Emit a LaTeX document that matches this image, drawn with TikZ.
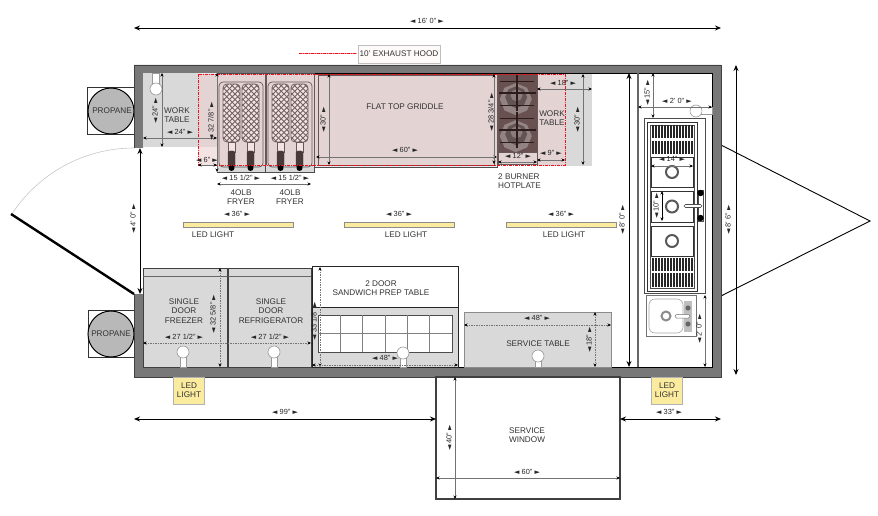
\documentclass[tikz,border=0pt]{standalone}
\usepackage{fontspec}
\setmainfont{Liberation Sans}
\newfontfamily\symfont{DejaVu Sans}
\usetikzlibrary{arrows.meta}
\definecolor{wallgray}{HTML}{787878}
\definecolor{tablegray}{HTML}{D9D9D9}
\definecolor{hoodgray}{HTML}{EBEBEB}
\definecolor{ledyellow}{HTML}{FBEB9F}
\definecolor{hoodpink}{HTML}{C98080}
\definecolor{hoodred}{HTML}{F01020}
\definecolor{grate}{HTML}{4E4345}
\newcommand{\dimtext}[1]{{\fontsize{7}{7}\symfont ◄}\hspace{2.2pt}#1\hspace{2.2pt}{\fontsize{7}{7}\symfont ►}}
\tikzset{
  txt/.style={font=\fontsize{8.2}{9.3}\selectfont,text=black!80,align=center,inner sep=0pt},
  dimtxt/.style={font=\fontsize{7.4}{8}\selectfont,text=black!85,inner sep=0pt},
  dimbig/.style={black,line width=.9pt,{Stealth[length=6pt,width=5pt]}-{Stealth[length=6pt,width=5pt]}},
  dimline/.style={black!55,line width=.6pt,{Stealth[length=3.5pt,width=3pt,black]}-{Stealth[length=3.5pt,width=3pt,black]}},
  dimdash/.style={dimline,dash pattern=on 1.5pt off 1pt},
  equip/.style={draw=black!70,line width=.7pt},
  hoodline/.style={hoodred,line width=.9pt,dash pattern=on 3pt off 1pt on 1pt off 1pt},
  ledbar/.style={draw=black!45,line width=.5pt,fill=ledyellow},
  ledbox/.style={draw=black!30,line width=.6pt,fill=ledyellow},
  ring/.style={draw=black!65,line width=2pt,fill=white},
  pipe/.style={draw=black!40,line width=.6pt,fill=white},
  tank/.style={draw=black,line width=1pt,fill=black!28}
}
\begin{document}
\begin{tikzpicture}[x=1pt,y=-1pt]
  \useasboundingbox (0,0) rectangle (878,516);
  % trailer hitch and door
  \draw[black,line width=.9pt] (721,145) -- (870,221) -- (721,296);
  \draw[black!22,line width=.6pt] (134,148) arc (270:213:146);
  \draw[black,line width=2.4pt] (134,294) -- (11,214);
  % propane
  \draw[black!80,line width=.9pt,fill=white] (87,87) rectangle (134,134);
  \draw[black!80,line width=.9pt,fill=white] (88,310) rectangle (134,357);
  \draw[tank] (111,111) circle (23);
  \draw[tank] (111,334) circle (23);
  \node[txt] (propaneA) at (112,111) {PROPANE};
  \node[txt] (propaneB) at (111,334) {PROPANE};
  % walls
  \fill[wallgray] (134,148) -- (134,65) -- (721,65) -- (721,377) -- (134,377) -- (134,294)
    -- (143,294) -- (143,367) -- (712,367) -- (712,73) -- (143,73) -- (143,148) -- cycle;
  \draw[black!75,line width=.9pt] (134,148) -- (134,65) -- (721,65) -- (721,377) -- (134,377) -- (134,294);
  \draw[black,line width=.8pt] (143,367) -- (712,367) -- (712,73) -- (143,73);
  \draw[black!60,line width=1.3pt] (638,73) -- (638,367);
  % work tables
  \fill[tablegray] (143,73) rectangle (198,147);
  \fill[hoodgray] (198,73) rectangle (217,147);
  \fill[hoodgray] (537,74) rectangle (565,165);
  \fill[tablegray] (565,74) rectangle (592,166);
  \fill[tablegray] (537,165) rectangle (565,166);
  % griddle
  \draw[equip,fill=hoodgray] (314,74) rectangle (497,167);
  \draw[equip,fill=hoodgray] (318,75) rectangle (494,165);
  % fryers
  \foreach \x in {217,266} {
    \draw[equip,fill=hoodgray] (\x,73) rectangle ++(48,99);
    \fill[tablegray] (\x+.4,165) rectangle (\x+47.6,171.6);
    \draw[equip,rounded corners=4pt] (\x+2,82) rectangle ++(44,85);
    \foreach \d in {6,25} {
      \begin{scope}
        \clip[rounded corners=4pt] (\x+\d,84) rectangle ++(17,58);
        \fill[white] (\x+\d,84) rectangle ++(17,58);
        \foreach \k in {0,5.5,...,82} {
          \draw[black!65,line width=1pt] (\x+\d,84+\k) -- ++(30,-30);
          \draw[black!65,line width=1pt] (\x+\d,84+\k-24) -- ++(30,30);
        }
      \end{scope}
      \draw[black!65,line width=.8pt,rounded corners=4pt] (\x+\d,84) rectangle ++(17,58);
      \draw[equip,fill=white,line width=.5pt] (\x+\d+5,142) rectangle ++(7,10);
      \draw[black!85,fill=black!85,rounded corners=2pt] (\x+\d+5,151) rectangle ++(7,16);
      \fill[black] (\x+\d+8.5,168) circle (3);
    }
  }
  % hotplate
  \draw[equip,fill=grate] (498,74) rectangle (537,152);
  \fill[hoodgray] (498,152) rectangle (537,164);
  \draw[equip] (498,152) rectangle (537,164);
  \foreach \y in {93,130} {
    \foreach \r/\c in {16/black!48,11/black!72,6/black!52} {
      \fill[\c] (517,\y) ++(22.5:\r) -- ++(112.5:.765*\r) -- ++(157.5:.765*\r) -- ++(202.5:.765*\r)
        -- ++(247.5:.765*\r) -- ++(292.5:.765*\r) -- ++(337.5:.765*\r) -- ++(22.5:.765*\r) -- cycle;
    }
    \draw[black,line width=1.2pt] (499,\y) -- (536,\y);
    \draw[black,line width=1.2pt] (517,\y-18) -- (517,\y+18);
    \draw[black,line width=.8pt] (500,\y-12) -- (534,\y-12) (500,\y+12) -- (534,\y+12);
  }
  % hood
  \fill[hoodpink,opacity=.22] (198,74) rectangle (565,165);
  \draw[hoodline] (198,74) rectangle (565,165);
  \draw[hoodred!45,line width=.9pt] (299,53) -- (357,53);
  \draw[hoodline] (299,53) -- (357,53);
  \node[txt,draw=black!25,fill=red!2,line width=.8pt,minimum width=82pt,minimum height=18pt] (hood) at (399,54) {10' EXHAUST HOOD};
  % dish sinks on the right wall
  \draw[black!70,line width=.7pt,fill=white] (644,118) rectangle (705,293);
  \draw[black!80,line width=.8pt,fill=white] (647,122) rectangle (697,291);
  \draw[black!70,line width=.7pt] (650,125) rectangle (694,288);
  \foreach \ya/\yb in {125/138,141/154,258/271,273/287}
    \foreach \x in {652,653.5,...,693}
      \draw[black!85,line width=.75pt] (\x,\ya) -- (\x,\yb);
  \foreach \ya/\yb in {157/187,191/222,226/256} {
    \draw[black!80,line width=.7pt,fill=white] (651,\ya) rectangle (693,\yb);
    \draw[ring] (672,{(\ya+\yb)/2}) circle (6);
  }
  \draw[black!70,fill=white,line width=.5pt] (698,190) rectangle (703,221);
  \fill[black] (700.5,193) circle (3.2) (700.5,218) circle (3.2);
  \draw[black!70,fill=white,line width=.6pt,rounded corners=1.5pt] (684,204.5) rectangle (702,207.5);
  \draw[black!55,line width=.6pt,fill=white] (646,295) rectangle (696,336);
  \draw[black!35,line width=.6pt,rounded corners=6pt] (649,299) rectangle (683,333);
  \fill[black!25] (684,301) rectangle (692,332);
  \draw[black!45,fill=white,line width=2pt] (666,316) circle (4.5);
  \fill[black!60] (688,308) circle (2.6) (688,324) circle (2.6);
  \draw[black!55,fill=white,line width=.5pt,rounded corners=1.5pt] (675,314.5) rectangle (690,318);
  % freezer, fridge, prep table, service table
  \foreach \xa/\xb in {143/227,228/311} {
    \draw[black!75,line width=.8pt,fill=tablegray] (\xa,268) rectangle (\xb,367);
    \draw[black!60,line width=.7pt] (\xa,276) -- (\xb,276);
  }
  \draw[black!85,line width=.8pt,fill=tablegray] (312,307) rectangle (458,367);
  \draw[black!85,line width=.8pt,fill=white] (312,266) rectangle (458,307);
  \draw[black!70,line width=.7pt,fill=white] (318,315) rectangle (452,352);
  \foreach \x in {340.3,362.7,385,407.3,429.7}
    \draw[black!50,line width=.5pt] (\x,315) -- (\x,352);
  \draw[black!50,line width=.5pt] (318,333) -- (452,333);
  \draw[black!45,line width=.7pt,fill=tablegray] (464,312) rectangle (611,367);
  % water connections
  \foreach \x/\y in {156/89,183/352,274/352,403/353,538/356,696/111} {
    \ifnum\y<200
      \ifnum\x<200
        \draw[pipe] (\x-3.5,73) rectangle (\x+3.5,\y);
      \else
        \draw[pipe] (\x,\y-3.5) rectangle (712,\y+3.5);
      \fi
    \else
      \draw[pipe] (\x-3,\y) rectangle (\x+3,367);
    \fi
    \draw[pipe] (\x,\y) circle (6);
  }
  % led lights
  \foreach \x in {183,344,506}
    \draw[ledbar] (\x,222) rectangle ++(110,5);
  \draw[ledbox] (173,377) rectangle (204,404);
  \draw[ledbox] (651,377) rectangle (682,404);
  \node[txt] (ledA) at (213,235) {LED LIGHT};
  \node[txt] (ledB) at (406,235) {LED LIGHT};
  \node[txt] (ledC) at (564,235) {LED LIGHT};
  \node[txt] (ledD) at (189,390) {LED\\LIGHT};
  \node[txt] (ledE) at (667,390) {LED\\LIGHT};
  % service window
  \draw[black!75,line width=1.1pt,fill=white] (436,377) rectangle (620,499);
  % outer dimensions
  \draw[dimbig] (134,28) -- (721,28);
  \draw[dimbig] (736,65) -- (736,375);
  \draw[dimbig] (629,73) -- (629,367);
  \draw[dimbig] (140,148) -- (140,294);
  \draw[dimbig] (134,419) -- (436,419);
  \draw[dimbig] (620,419) -- (721,419);
  % inner dimensions
  \draw[dimline] (162,73) -- (162,147);
  \draw[dimline] (143,138) -- (217,138);
  \draw[dimline] (217,73) -- (217,172);
  \draw[dimline] (198,165) -- (217,165);
  \draw[dimline] (217,184) -- (311,184);
  \draw[dimline] (329,74) -- (329,165);
  \draw[dimline] (316,157) -- (497,157);
  \draw[dimline] (494,74) -- (494,164);
  \draw[dimline] (498,162) -- (537,162);
  \draw[dimline] (537,160) -- (565,160);
  \draw[dimline] (537,89) -- (592,89);
  \draw[dimline] (583,74) -- (583,165);
  \draw[dimline] (653,73) -- (653,118);
  \draw[dimline] (638,107) -- (712,107);
  \draw[dimline] (651,166) -- (693,166);
  \draw[dimline,black] (662,191) -- (662,221);
  \draw[dimline] (705,295) -- (705,367);
  \draw[dimdash] (143,343) -- (311,343);
  \draw[dimdash] (220,268) -- (220,367);
  \draw[dimdash] (320,267) -- (320,367);
  \draw[dimdash] (312,365) -- (458,365);
  \draw[dimdash] (464,325) -- (611,325);
  \draw[dimdash] (595,312) -- (595,367);
  \draw[dimline] (455,377) -- (455,499);
  \draw[dimline] (436,478) -- (620,478);
  % equipment labels
  \node[txt] (tableA) at (177,115) {WORK\\TABLE};
  \node[txt] (griddle) at (405,107) {FLAT TOP GRIDDLE};
  \node[txt] (tableB) at (552,118) {WORK\\TABLE};
  \node[txt,align=left,anchor=west] (hotplate) at (498,181) {2 BURNER\\HOTPLATE};
  \node[txt] (fryerA) at (241,197) {4OLB\\FRYER};
  \node[txt] (fryerB) at (290,197) {4OLB\\FRYER};
  \node[txt] (freezer) at (184,311) {SINGLE\\DOOR\\FREEZER};
  \node[txt] (fridge) at (271,311) {SINGLE\\DOOR\\REFRIGERATOR};
  \node[txt] (prep) at (381,288) {2 DOOR\\SANDWICH PREP TABLE};
  \node[txt] (service) at (538,344) {SERVICE TABLE};
  \node[txt] (window) at (527,435) {SERVICE\\WINDOW};
  % dimension labels
  \node[dimtxt] (dTotal) at (427,21) {\dimtext{16' 0"}};
  \node[dimtxt,rotate=90] (dWidth) at (728,220) {\dimtext{8' 6"}};
  \node[dimtxt,rotate=90] (dAisle) at (622,220) {\dimtext{8' 0"}};
  \node[dimtxt,rotate=90] (dDoor) at (133,219) {\dimtext{4' 0"}};
  \node[dimtxt] (dLeft) at (285,412) {\dimtext{99"}};
  \node[dimtxt] (dRight) at (669,412) {\dimtext{33"}};
  \node[dimtxt,rotate=90] (dTableA) at (155,111) {\dimtext{24"}};
  \node[dimtxt] (dTableB) at (180,132) {\dimtext{24"}};
  \node[dimtxt,rotate=90] (dFryerD) at (211,121) {\dimtext{32 7/8"}};
  \node[dimtxt] (dHood) at (207,160) {\dimtext{6"}};
  \node[dimtxt] (dFryerA) at (241,178) {\dimtext{15 1/2"}};
  \node[dimtxt] (dFryerB) at (290,178) {\dimtext{15 1/2"}};
  \node[dimtxt,rotate=90] (dGriddleD) at (323,120) {\dimtext{30"}};
  \node[dimtxt] (dGriddleW) at (405,150) {\dimtext{60"}};
  \node[dimtxt,rotate=90] (dPlateD) at (491,112) {\dimtext{28 3/4"}};
  \node[dimtxt] (dPlateW) at (518,156) {\dimtext{12"}};
  \node[dimtxt] (dTableC) at (551,153) {\dimtext{9"}};
  \node[dimtxt] (dTableD) at (563,83) {\dimtext{18"}};
  \node[dimtxt,rotate=90] (dTableE) at (577,120) {\dimtext{30"}};
  \foreach \x/\n in {237/A,399/B,561/C}
    \node[dimtxt] (dLed\n) at (\x,214) {\dimtext{36"}};
  \node[dimtxt,rotate=90] (dTop) at (647,93) {\dimtext{15"}};
  \node[dimtxt] (dClear) at (677,101) {\dimtext{2' 0"}};
  \node[dimtxt] (dSinkW) at (672,159) {\dimtext{14"}};
  \node[dimtxt,rotate=90] (dSinkD) at (656,206) {\dimtext{10"}};
  \node[dimtxt,rotate=90] (dHand) at (699,329) {\dimtext{2' 0"}};
  \node[dimtxt] (dFreezer) at (184,337) {\dimtext{27 1/2"}};
  \node[dimtxt] (dFridge) at (270,337) {\dimtext{27 1/2"}};
  \node[dimtxt,rotate=90] (dCold) at (213,314) {\dimtext{32 5/8"}};
  \node[dimtxt,rotate=90] (dPrepD) at (314,321) {\dimtext{33 1/8"}};
  \node[dimtxt] (dPrepW) at (385,358) {\dimtext{48"}};
  \node[dimtxt] (dServW) at (537,318) {\dimtext{48"}};
  \node[dimtxt,rotate=90] (dServD) at (589,340) {\dimtext{18"}};
  \node[dimtxt,rotate=90] (dWinD) at (449,438) {\dimtext{40"}};
  \node[dimtxt] (dWinW) at (527,472) {\dimtext{60"}};
\end{tikzpicture}
\end{document}
